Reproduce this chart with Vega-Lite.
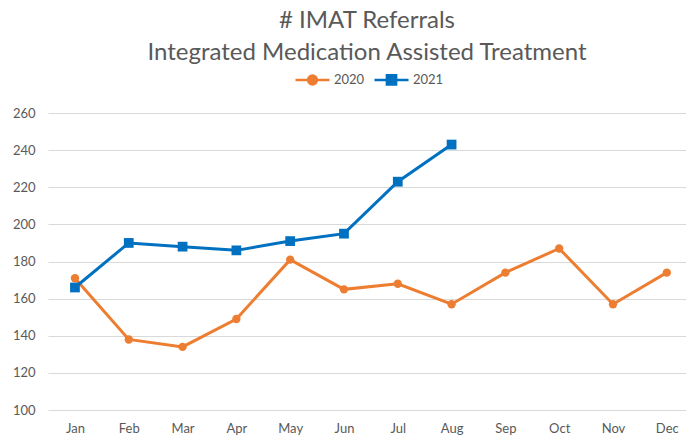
{
  "$schema": "https://vega.github.io/schema/vega-lite/v6.json",
  "width": 638,
  "height": 297,
  "autosize": "none",
  "padding": {"left": 48, "top": 113, "right": 0, "bottom": 28},
  "background": "white",
  "config": {
    "view": {"stroke": null},
    "font": "Lato",
    "axis": {"labelFont": "Lato", "labelColor": "#595959", "labelFontSize": 13}
  },
  "title": {
    "text": ["# IMAT Referrals", "Integrated Medication Assisted Treatment"],
    "fontSize": 24,
    "fontWeight": "normal",
    "color": "#595959",
    "lineHeight": 32,
    "anchor": "middle",
    "frame": "group",
    "offset": -4
  },
  "data": {
    "values": [
      {"month": "Jan", "series": "2020", "value": 171},
      {"month": "Feb", "series": "2020", "value": 138},
      {"month": "Mar", "series": "2020", "value": 134},
      {"month": "Apr", "series": "2020", "value": 149},
      {"month": "May", "series": "2020", "value": 181},
      {"month": "Jun", "series": "2020", "value": 165},
      {"month": "Jul", "series": "2020", "value": 168},
      {"month": "Aug", "series": "2020", "value": 157},
      {"month": "Sep", "series": "2020", "value": 174},
      {"month": "Oct", "series": "2020", "value": 187},
      {"month": "Nov", "series": "2020", "value": 157},
      {"month": "Dec", "series": "2020", "value": 174},
      {"month": "Jan", "series": "2021", "value": 166},
      {"month": "Feb", "series": "2021", "value": 190},
      {"month": "Mar", "series": "2021", "value": 188},
      {"month": "Apr", "series": "2021", "value": 186},
      {"month": "May", "series": "2021", "value": 191},
      {"month": "Jun", "series": "2021", "value": 195},
      {"month": "Jul", "series": "2021", "value": 223},
      {"month": "Aug", "series": "2021", "value": 243}
    ]
  },
  "encoding": {
    "x": {
      "field": "month",
      "type": "ordinal",
      "sort": ["Jan", "Feb", "Mar", "Apr", "May", "Jun", "Jul", "Aug", "Sep", "Oct", "Nov", "Dec"],
      "scale": {"type": "point", "padding": 0.429, "align": 0.584},
      "axis": {"title": null, "domain": false, "ticks": false, "grid": false, "labelAngle": 0, "labelPadding": 12}
    },
    "y": {
      "field": "value",
      "type": "quantitative",
      "scale": {"domain": [100, 260], "nice": false, "zero": false},
      "axis": {"title": null, "domain": false, "ticks": false, "values": [100, 120, 140, 160, 180, 200, 220, 240, 260], "gridColor": "#D9D9D9", "gridWidth": 1, "labelPadding": 13}
    },
    "color": {
      "field": "series",
      "type": "nominal",
      "scale": {"domain": ["2020", "2021"], "range": ["#ED7D31", "#0070C0"]},
      "legend": {
        "title": null,
        "orient": "none",
        "direction": "horizontal",
        "legendX": 246,
        "legendY": -52,
        "labelFont": "Lato",
        "labelFontSize": 13,
        "labelColor": "#595959",
        "labelOffset": 3,
        "columnPadding": 4,
        "symbolSize": 1156,
        "symbolStrokeWidth": 2.5,
        "encode": {
          "symbols": {
            "update": {
              "shape": {"signal": "datum.value == '2020' ? 'M-1,0H1M-0.26,0A0.26,0.26,0,1,1,0.26,0A0.26,0.26,0,1,1,-0.26,0Z' : 'M-1,0H1M-0.27,-0.27H0.27V0.27H-0.27Z'"},
              "fill": {"signal": "datum.value == '2020' ? '#ED7D31' : '#0070C0'"},
              "stroke": {"signal": "datum.value == '2020' ? '#ED7D31' : '#0070C0'"},
              "strokeWidth": {"value": 2.5},
              "opacity": {"value": 1}
            }
          }
        }
      }
    }
  },
  "layer": [
    {"mark": {"type": "line", "strokeWidth": 3}},
    {
      "transform": [{"filter": "datum.series == '2020'"}],
      "mark": {"type": "point", "shape": "circle", "filled": true, "size": 70, "opacity": 1}
    },
    {
      "transform": [{"filter": "datum.series == '2021'"}],
      "mark": {"type": "point", "shape": "square", "filled": true, "size": 95, "opacity": 1}
    }
  ]
}
